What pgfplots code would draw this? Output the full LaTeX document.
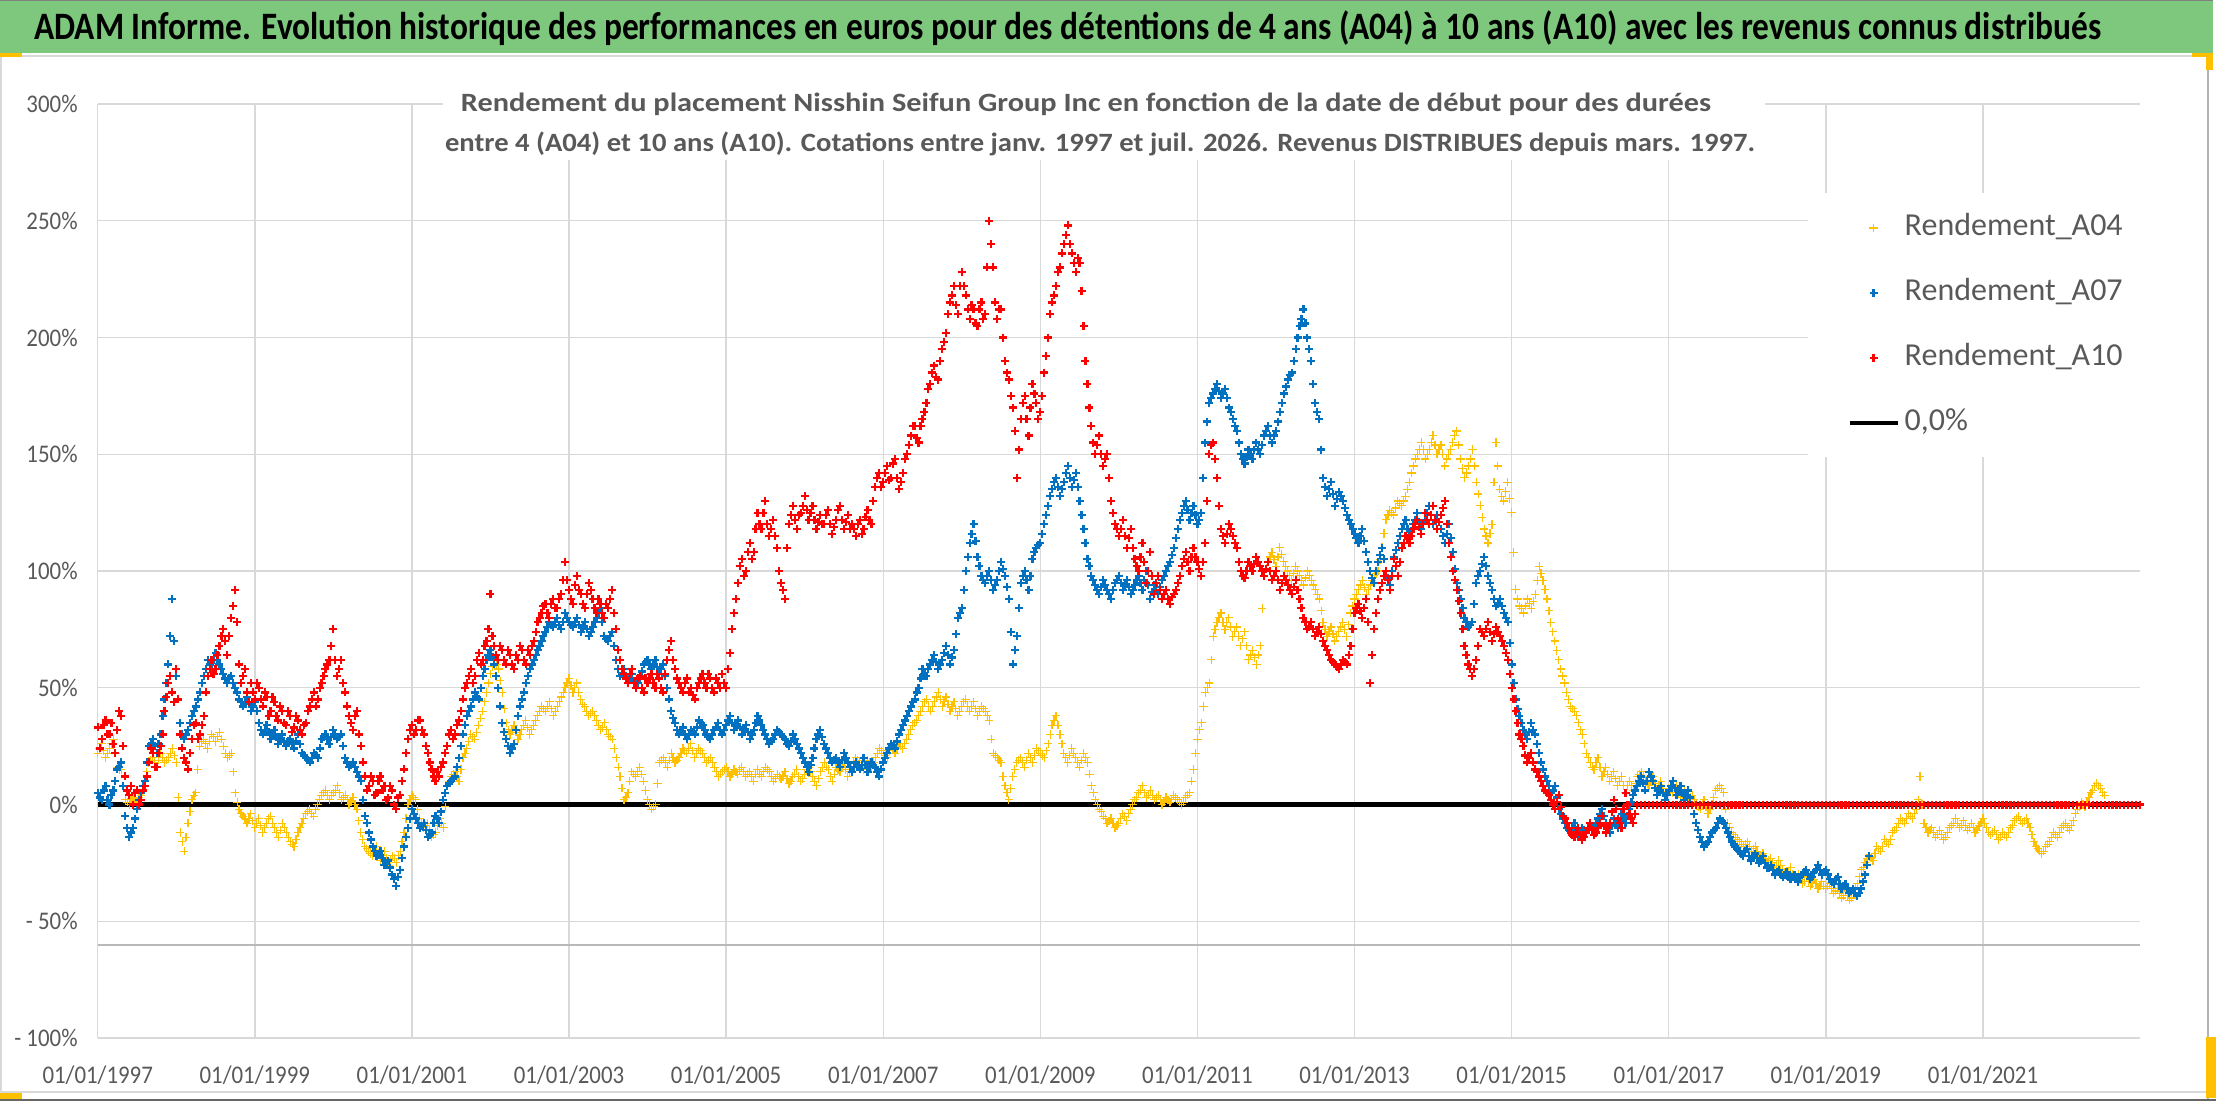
\documentclass[border=0pt]{standalone}
\usepackage{pgfplots}
\pgfplotsset{compat=1.18}
\usepackage{graphicx}
\usepackage{fontspec}
\setmainfont{Carlito}
\newfontfamily\tickfont{Carlito}[FakeStretch=0.9]
\definecolor{cA04}{RGB}{255,192,0}
\definecolor{cA07}{RGB}{0,112,192}
\definecolor{cA10}{RGB}{255,0,0}
\definecolor{titlegreen}{RGB}{126,200,126}
\definecolor{txtgray}{RGB}{89,89,89}
\definecolor{gridgray}{RGB}{217,217,217}
\pgfplotsset{
  sA04/.style={only marks, mark=+, mark size=2.1pt, cA04, line width=0.6pt},
  sA07/.style={only marks, mark=+, mark size=2.0pt, cA07, line width=1.1pt},
  sA10/.style={only marks, mark=+, mark size=2.0pt, cA10, line width=1.1pt},
}
\begin{document}
\begin{tikzpicture}
\fill[white] (0,0) rectangle (1108pt,-551pt);
\useasboundingbox (0,0) rectangle (1108pt,-551pt);
\begin{scope}[x=0.5pt,y=-0.5pt]
 \fill[titlegreen] (0,0) rectangle (2213,53);
 \draw[gray, line width=0.6pt] (0,0.6) -- (2213,0.6);
 \draw[gridgray, line width=1pt] (0,56) -- (2208,56);
 \draw[gridgray, line width=0.8pt] (1,56) -- (1,1092);
 \draw[gray!60, line width=0.8pt] (2208,53) -- (2208,1100);
 \draw[gridgray, line width=1pt] (0,1092) -- (2208,1092);
 \draw[gray!80!black, line width=1pt] (0,1100) -- (2216,1100);
 \fill[cA04] (0,53) rectangle (22,57);
 \fill[cA04] (2192,53) rectangle (2213,57);
 \fill[cA04] (2206,53) rectangle (2213,70);
 \fill[cA04] (2206,1037) rectangle (2216,1098);
 \fill[cA04] (0,1093) rectangle (22,1099);
 \node[anchor=base, inner sep=0pt] at (1068,40) {\resizebox{1033.5pt}{\height}{\bfseries\fontsize{19.4}{23}\selectfont ADAM Informe. Evolution historique des performances en euros pour des détentions de 4 ans (A04) à 10 ans (A10) avec les revenus connus distribués}};
\end{scope}
\begin{axis}[
  at={(48.85pt,-52pt)}, anchor=north west,
  scale only axis, width=1021.15pt, height=467pt,
  xmin=1997, xmax=2023, ymin=-100, ymax=300,
  clip=false,
  axis line style={draw=none}, major tick length=0pt,
  xtick={1997,1999,2001,2003,2005,2007,2009,2011,2013,2015,2017,2019,2021},
  xticklabels={01/01/1997,01/01/1999,01/01/2001,01/01/2003,01/01/2005,01/01/2007,01/01/2009,01/01/2011,01/01/2013,01/01/2015,01/01/2017,01/01/2019,01/01/2021},
  ytick={-100,-50,0,50,100,150,200,250,300},
  yticklabels={- 100\%,- 50\%,0\%,50\%,100\%,150\%,200\%,250\%,300\%},
  grid=major, major grid style={gridgray, line width=0.7pt},
  extra y ticks={-60}, extra y tick labels={},
  extra y tick style={grid=major, major grid style={gray!55, line width=1pt}},
  tick label style={font=\tickfont\fontsize{12.7}{15}\selectfont, text=txtgray, inner sep=0pt},
  xticklabel style={anchor=north, yshift=-13.5pt},
  yticklabel style={anchor=east, xshift=-9.85pt},
  legend style={at={(0.8374,0.9047)}, anchor=north west, draw=none, fill=white,
    inner xsep=19.5pt, inner ysep=10.5pt, row sep=19pt,
    font=\fontsize{16}{19}\selectfont, text=txtgray,
    nodes={inner sep=0pt, text height=10.5pt, text depth=3pt},
    /tikz/every odd column/.append style={column sep=2.5pt}},
  legend cell align=left,
  legend image code/.code={\draw[mark repeat=2,mark phase=2,#1] plot coordinates {(0pt,0pt)(12pt,0pt)(24pt,0pt)};},
]
\addplot[black, line width=2.2pt, forget plot] coordinates {(1997,0)(2023,0)};
% A04
\addplot[sA04] coordinates {
(1997.00,22)(1997.05,26)(1997.10,20)(1997.15,24)(1997.20,28)(1997.25,16)(1997.30,15)(1997.35,2)(1997.40,0)(1997.45,3)(1997.50,1)(1997.55,4)(1997.60,8)(1997.65,18)(1997.70,20)(1997.75,16)(1997.80,22)(1997.85,18)(1997.90,20)(1997.95,24)
(1998.00,18)(1998.05,-12)(1998.10,-20)(1998.15,-8)(1998.20,2)(1998.25,5)(1998.30,25)(1998.35,28)(1998.40,24)(1998.45,30)(1998.50,27)(1998.55,31)(1998.60,25)(1998.65,20)(1998.70,22)(1998.75,5)(1998.80,-2)(1998.85,-5)(1998.90,-8)(1998.95,-4)
(1999.00,-10)(1999.05,-6)(1999.10,-12)(1999.15,-8)(1999.20,-5)(1999.25,-10)(1999.30,-14)(1999.35,-8)(1999.40,-12)(1999.45,-16)(1999.50,-18)(1999.55,-12)(1999.60,-8)(1999.65,-4)(1999.70,-2)(1999.75,-5)(1999.80,0)(1999.85,4)(1999.90,6)(1999.95,2)
(2000.00,5)(2000.05,8)(2000.10,2)(2000.15,4)(2000.20,0)(2000.25,3)(2000.30,-2)(2000.35,-12)(2000.40,-18)(2000.45,-20)(2000.50,-22)(2000.55,-18)(2000.60,-24)(2000.65,-20)(2000.70,-26)(2000.75,-22)(2000.80,-25)(2000.85,-20)(2000.90,-12)(2000.95,0)
(2001.00,4)(2001.05,2)(2001.10,-6)(2001.15,-10)(2001.20,-8)(2001.25,-14)(2001.30,-12)(2001.35,-6)(2001.40,-10)(2001.45,8)(2001.50,12)(2001.55,14)(2001.60,10)(2001.65,20)(2001.70,24)(2001.75,30)(2001.80,28)(2001.85,34)(2001.90,40)(2001.95,48)
(2002.00,56)(2002.05,62)(2002.10,58)(2002.15,48)(2002.20,35)(2002.25,30)(2002.30,34)(2002.35,28)(2002.40,32)(2002.45,36)(2002.50,30)(2002.55,34)(2002.60,38)(2002.65,42)(2002.70,40)(2002.75,44)(2002.80,38)(2002.85,42)(2002.90,46)(2002.95,50)
(2003.00,54)(2003.05,48)(2003.10,52)(2003.15,45)(2003.20,42)(2003.25,38)(2003.30,40)(2003.35,36)(2003.40,32)(2003.45,35)(2003.50,30)(2003.55,28)(2003.60,20)(2003.65,12)(2003.70,2)(2003.75,5)(2003.80,14)(2003.85,12)(2003.90,16)(2003.95,10)
(2004.00,2)(2004.05,-2)(2004.10,0)(2004.15,18)(2004.20,20)(2004.25,16)(2004.30,22)(2004.35,18)(2004.40,20)(2004.45,24)(2004.50,22)(2004.55,26)(2004.60,20)(2004.65,24)(2004.70,22)(2004.75,18)(2004.80,20)(2004.85,16)(2004.90,12)(2004.95,14)
(2005.00,16)(2005.05,12)(2005.10,15)(2005.15,13)(2005.20,16)(2005.25,12)(2005.30,14)(2005.35,10)(2005.40,15)(2005.45,12)(2005.50,16)(2005.55,14)(2005.60,10)(2005.65,13)(2005.70,11)(2005.75,14)(2005.80,9)(2005.85,12)(2005.90,15)(2005.95,10)
(2006.00,13)(2006.05,16)(2006.10,12)(2006.15,8)(2006.20,14)(2006.25,18)(2006.30,15)(2006.35,10)(2006.40,16)(2006.45,14)(2006.50,18)(2006.55,12)(2006.60,16)(2006.65,20)(2006.70,18)(2006.75,15)(2006.80,19)(2006.85,16)(2006.90,20)(2006.95,24)
(2007.00,22)(2007.05,20)(2007.10,25)(2007.15,22)(2007.20,26)(2007.25,24)(2007.30,28)(2007.35,32)(2007.40,35)(2007.45,38)(2007.50,42)(2007.55,45)(2007.60,40)(2007.65,44)(2007.70,48)(2007.75,42)(2007.80,46)(2007.85,40)(2007.90,44)(2007.95,38)
(2008.00,42)(2008.05,45)(2008.10,40)(2008.15,44)(2008.20,38)(2008.25,42)(2008.30,40)(2008.35,36)(2008.40,22)(2008.45,20)(2008.50,18)(2008.55,8)(2008.60,2)(2008.65,12)(2008.70,18)(2008.75,20)(2008.80,16)(2008.85,22)(2008.90,18)(2008.95,24)
(2009.00,22)(2009.05,20)(2009.10,26)(2009.15,34)(2009.20,38)(2009.25,30)(2009.30,22)(2009.35,18)(2009.40,24)(2009.45,20)(2009.50,16)(2009.55,22)(2009.60,18)(2009.65,8)(2009.70,2)(2009.75,-2)(2009.80,-5)(2009.85,-8)(2009.90,-6)(2009.95,-10)
(2010.00,-8)(2010.05,-4)(2010.10,-7)(2010.15,-2)(2010.20,2)(2010.25,5)(2010.30,8)(2010.35,3)(2010.40,6)(2010.45,2)(2010.50,4)(2010.55,0)(2010.60,3)(2010.65,1)(2010.70,4)(2010.75,2)(2010.80,0)(2010.85,3)(2010.90,5)(2010.95,15)
(2011.00,28)(2011.05,35)(2011.10,48)(2011.15,52)(2011.20,72)(2011.25,78)(2011.30,82)(2011.35,75)(2011.40,80)(2011.45,72)(2011.50,76)(2011.55,68)(2011.60,74)(2011.65,62)(2011.70,66)(2011.75,60)(2011.80,68)(2011.85,98)(2011.90,104)(2011.95,108)
(2012.00,102)(2012.05,110)(2012.10,104)(2012.15,100)(2012.20,96)(2012.25,102)(2012.30,98)(2012.35,94)(2012.40,100)(2012.45,96)(2012.50,92)(2012.55,88)(2012.60,78)(2012.65,72)(2012.70,76)(2012.75,70)(2012.80,74)(2012.85,78)(2012.90,72)(2012.95,82)
(2013.00,88)(2013.05,92)(2013.10,96)(2013.15,90)(2013.20,94)(2013.25,98)(2013.30,100)(2013.35,110)(2013.40,122)(2013.45,126)(2013.50,124)(2013.55,130)(2013.60,128)(2013.65,132)(2013.70,138)(2013.75,145)(2013.80,150)(2013.85,155)(2013.90,148)(2013.95,152)
(2014.00,158)(2014.05,150)(2014.10,154)(2014.15,145)(2014.20,150)(2014.25,155)(2014.30,160)(2014.35,148)(2014.40,140)(2014.45,145)(2014.50,152)(2014.55,138)(2014.60,128)(2014.65,118)(2014.70,112)(2014.75,120)(2014.80,155)(2014.85,135)(2014.90,130)(2014.95,138)
(2015.00,125)(2015.05,92)(2015.10,85)(2015.15,82)(2015.20,88)(2015.25,84)(2015.30,90)(2015.35,102)(2015.40,96)(2015.45,88)(2015.50,78)(2015.55,70)(2015.60,62)(2015.65,55)(2015.70,48)(2015.75,42)(2015.80,40)(2015.85,35)(2015.90,30)(2015.95,22)
(2016.00,18)(2016.05,15)(2016.10,20)(2016.15,12)(2016.20,16)(2016.25,10)(2016.30,14)(2016.35,8)(2016.40,12)(2016.45,5)(2016.50,10)(2016.55,6)(2016.60,12)(2016.65,14)(2016.70,10)(2016.75,8)(2016.80,12)(2016.85,6)(2016.90,10)(2016.95,4)
(2017.00,7)(2017.05,5)(2017.10,8)(2017.15,3)(2017.20,6)(2017.25,2)(2017.30,4)(2017.35,0)(2017.40,-2)(2017.45,2)(2017.50,-4)(2017.55,0)(2017.60,6)(2017.65,8)(2017.70,5)(2017.75,-8)(2017.80,-12)(2017.85,-14)(2017.90,-16)(2017.95,-18)
(2018.00,-16)(2018.05,-20)(2018.10,-18)(2018.15,-22)(2018.20,-21)(2018.25,-25)(2018.30,-23)(2018.35,-27)(2018.40,-24)(2018.45,-28)(2018.50,-30)(2018.55,-27)(2018.60,-32)(2018.65,-30)(2018.70,-34)(2018.75,-31)(2018.80,-35)(2018.85,-32)(2018.90,-36)(2018.95,-33)
(2019.00,-36)(2019.05,-34)(2019.10,-38)(2019.15,-36)(2019.20,-40)(2019.25,-37)(2019.30,-41)(2019.35,-38)(2019.40,-34)(2019.45,-28)(2019.50,-25)(2019.55,-22)(2019.60,-24)(2019.65,-18)(2019.70,-20)(2019.75,-15)(2019.80,-17)(2019.85,-12)(2019.90,-10)(2019.95,-6)
(2020.00,-8)(2020.05,-4)(2020.10,-6)(2020.15,-2)(2020.20,12)(2020.25,-8)(2020.30,-12)(2020.35,-10)(2020.40,-14)(2020.45,-11)(2020.50,-15)(2020.55,-12)(2020.60,-9)(2020.65,-6)(2020.70,-10)(2020.75,-7)(2020.80,-11)(2020.85,-8)(2020.90,-12)(2020.95,-9)
(2021.00,-6)(2021.05,-10)(2021.10,-13)(2021.15,-11)(2021.20,-15)(2021.25,-12)(2021.30,-14)(2021.35,-10)(2021.40,-7)(2021.45,-5)(2021.50,-8)(2021.55,-6)(2021.60,-10)(2021.65,-16)(2021.70,-19)(2021.75,-21)(2021.80,-18)(2021.85,-16)(2021.90,-12)(2021.95,-14)
(2022.00,-10)(2022.05,-8)(2022.10,-11)(2022.15,-7)(2022.20,-2)(2022.25,1)(2022.30,-1)(2022.35,3)(2022.40,6)(2022.45,9)(2022.50,7)(2022.55,4)
};
\addlegendentry{Rendement\_A04}
\addplot[sA04, forget plot] coordinates {
(1997.025,24)(1997.075,23)(1997.125,22)(1997.175,26)(1997.225,22)(1997.275,15)(1997.325,8)(1997.375,1)(1997.425,2)(1997.475,2)(1997.525,3)(1997.575,6)(1997.625,14)(1997.675,19)(1997.725,18)(1997.775,19)(1997.825,20)(1997.875,19)(1997.925,22)(1997.975,21)
(1998.025,3)(1998.075,-16)(1998.125,-14)(1998.175,-3)(1998.225,4)(1998.275,15)(1998.325,27)(1998.375,26)(1998.425,27)(1998.475,29)(1998.525,29)(1998.575,28)(1998.625,22)(1998.675,21)(1998.725,14)(1998.775,1)(1998.825,-4)(1998.875,-6)(1998.925,-6)(1998.975,-7)
(1999.025,-8)(1999.075,-9)(1999.125,-10)(1999.175,-6)(1999.225,-8)(1999.275,-12)(1999.325,-11)(1999.375,-10)(1999.425,-14)(1999.475,-17)(1999.525,-15)(1999.575,-10)(1999.625,-6)(1999.675,-3)(1999.725,-4)(1999.775,-2)(1999.825,2)(1999.875,5)(1999.925,4)(1999.975,4)
(2000.025,6)(2000.075,5)(2000.125,3)(2000.175,2)(2000.225,1)(2000.275,0)(2000.325,-7)(2000.375,-15)(2000.425,-19)(2000.475,-21)(2000.525,-20)(2000.575,-21)(2000.625,-22)(2000.675,-23)(2000.725,-24)(2000.775,-23)(2000.825,-22)(2000.875,-16)(2000.925,-6)(2000.975,2)
(2001.025,3)(2001.075,-2)(2001.125,-8)(2001.175,-9)(2001.225,-11)(2001.275,-13)(2001.325,-9)(2001.375,-8)(2001.425,-1)(2001.475,10)(2001.525,13)(2001.575,12)(2001.625,15)(2001.675,22)(2001.725,27)(2001.775,29)(2001.825,31)(2001.875,37)(2001.925,44)(2001.975,52)
(2002.025,59)(2002.075,60)(2002.125,53)(2002.175,41)(2002.225,32)(2002.275,32)(2002.325,31)(2002.375,30)(2002.425,34)(2002.475,33)(2002.525,32)(2002.575,36)(2002.625,40)(2002.675,41)(2002.725,42)(2002.775,41)(2002.825,40)(2002.875,44)(2002.925,48)(2002.975,52)
(2003.025,51)(2003.075,50)(2003.125,48)(2003.175,43)(2003.225,40)(2003.275,39)(2003.325,38)(2003.375,34)(2003.425,33)(2003.475,32)(2003.525,29)(2003.575,24)(2003.625,16)(2003.675,7)(2003.725,3)(2003.775,10)(2003.825,13)(2003.875,14)(2003.925,13)(2003.975,6)
(2004.025,0)(2004.075,-1)(2004.125,9)(2004.175,19)(2004.225,18)(2004.275,19)(2004.325,20)(2004.375,19)(2004.425,22)(2004.475,23)(2004.525,24)(2004.575,23)(2004.625,22)(2004.675,23)(2004.725,20)(2004.775,19)(2004.825,18)(2004.875,14)(2004.925,13)(2004.975,15)
(2005.025,14)(2005.075,13)(2005.125,14)(2005.175,15)(2005.225,14)(2005.275,13)(2005.325,12)(2005.375,13)(2005.425,13)(2005.475,14)(2005.525,15)(2005.575,12)(2005.625,11)(2005.675,12)(2005.725,12)(2005.775,11)(2005.825,10)(2005.875,13)(2005.925,12)(2005.975,11)
(2006.025,15)(2006.075,14)(2006.125,10)(2006.175,11)(2006.225,16)(2006.275,16)(2006.325,12)(2006.375,13)(2006.425,15)(2006.475,16)(2006.525,15)(2006.575,14)(2006.625,18)(2006.675,19)(2006.725,16)(2006.775,17)(2006.825,18)(2006.875,18)(2006.925,22)(2006.975,23)
(2007.025,21)(2007.075,23)(2007.125,24)(2007.175,24)(2007.225,25)(2007.275,26)(2007.325,30)(2007.375,34)(2007.425,36)(2007.475,40)(2007.525,44)(2007.575,42)(2007.625,42)(2007.675,46)(2007.725,45)(2007.775,44)(2007.825,43)(2007.875,42)(2007.925,41)(2007.975,40)
(2008.025,44)(2008.075,42)(2008.125,42)(2008.175,41)(2008.225,40)(2008.275,41)(2008.325,38)(2008.375,28)(2008.425,21)(2008.475,19)(2008.525,12)(2008.575,5)(2008.625,7)(2008.675,15)(2008.725,19)(2008.775,18)(2008.825,19)(2008.875,20)(2008.925,21)(2008.975,23)
(2009.025,21)(2009.075,23)(2009.125,30)(2009.175,36)(2009.225,34)(2009.275,26)(2009.325,20)(2009.375,21)(2009.425,22)(2009.475,18)(2009.525,19)(2009.575,20)(2009.625,13)(2009.675,5)(2009.725,0)(2009.775,-3)(2009.825,-6)(2009.875,-7)(2009.925,-8)(2009.975,-9)
(2010.025,-6)(2010.075,-5)(2010.125,-4)(2010.175,0)(2010.225,3)(2010.275,6)(2010.325,5)(2010.375,4)(2010.425,4)(2010.475,3)(2010.525,2)(2010.575,1)(2010.625,2)(2010.675,2)(2010.725,3)(2010.775,1)(2010.825,1)(2010.875,4)(2010.925,10)(2010.975,22)
(2011.025,32)(2011.075,42)(2011.125,50)(2011.175,62)(2011.225,75)(2011.275,80)(2011.325,78)(2011.375,78)(2011.425,76)(2011.475,74)(2011.525,72)(2011.575,71)(2011.625,68)(2011.675,64)(2011.725,63)(2011.775,64)(2011.825,84)(2011.875,101)(2011.925,106)(2011.975,105)
(2012.025,106)(2012.075,107)(2012.125,102)(2012.175,98)(2012.225,99)(2012.275,100)(2012.325,96)(2012.375,97)(2012.425,98)(2012.475,94)(2012.525,90)(2012.575,83)(2012.625,75)(2012.675,74)(2012.725,73)(2012.775,72)(2012.825,76)(2012.875,75)(2012.925,77)(2012.975,85)
(2013.025,90)(2013.075,94)(2013.125,93)(2013.175,92)(2013.225,96)(2013.275,99)(2013.325,105)(2013.375,116)(2013.425,124)(2013.475,125)(2013.525,127)(2013.575,129)(2013.625,130)(2013.675,135)(2013.725,142)(2013.775,148)(2013.825,152)(2013.875,152)(2013.925,150)(2013.975,155)
(2014.025,154)(2014.075,152)(2014.125,150)(2014.175,148)(2014.225,152)(2014.275,158)(2014.325,154)(2014.375,144)(2014.425,142)(2014.475,148)(2014.525,145)(2014.575,133)(2014.625,123)(2014.675,115)(2014.725,116)(2014.775,138)(2014.825,145)(2014.875,132)(2014.925,134)(2014.975,131)
(2015.025,108)(2015.075,88)(2015.125,84)(2015.175,85)(2015.225,86)(2015.275,87)(2015.325,96)(2015.375,99)(2015.425,92)(2015.475,83)(2015.525,74)(2015.575,66)(2015.625,58)(2015.675,52)(2015.725,45)(2015.775,41)(2015.825,38)(2015.875,32)(2015.925,26)(2015.975,20)
(2016.025,16)(2016.075,18)(2016.125,16)(2016.175,14)(2016.225,13)(2016.275,12)(2016.325,11)(2016.375,10)(2016.425,8)(2016.475,8)(2016.525,8)(2016.575,9)(2016.625,13)(2016.675,12)(2016.725,9)(2016.775,10)(2016.825,9)(2016.875,8)(2016.925,7)(2016.975,5)
(2017.025,6)(2017.075,7)(2017.125,5)(2017.175,4)(2017.225,4)(2017.275,3)(2017.325,2)(2017.375,-1)(2017.425,0)(2017.475,-1)(2017.525,-2)(2017.575,3)(2017.625,7)(2017.675,7)(2017.725,-2)(2017.775,-10)(2017.825,-13)(2017.875,-15)(2017.925,-17)(2017.975,-17)
(2018.025,-18)(2018.075,-19)(2018.125,-20)(2018.175,-22)(2018.225,-23)(2018.275,-24)(2018.325,-25)(2018.375,-26)(2018.425,-26)(2018.475,-29)(2018.525,-29)(2018.575,-30)(2018.625,-31)(2018.675,-32)(2018.725,-33)(2018.775,-33)(2018.825,-34)(2018.875,-34)(2018.925,-35)(2018.975,-35)
(2019.025,-35)(2019.075,-36)(2019.125,-37)(2019.175,-38)(2019.225,-39)(2019.275,-39)(2019.325,-40)(2019.375,-36)(2019.425,-31)(2019.475,-27)(2019.525,-23)(2019.575,-23)(2019.625,-21)(2019.675,-19)(2019.725,-18)(2019.775,-16)(2019.825,-15)(2019.875,-11)(2019.925,-8)(2019.975,-7)
(2020.025,-6)(2020.075,-5)(2020.125,-4)(2020.175,2)(2020.225,0)(2020.275,-10)(2020.325,-11)(2020.375,-12)(2020.425,-13)(2020.475,-13)(2020.525,-14)(2020.575,-10)(2020.625,-8)(2020.675,-8)(2020.725,-9)(2020.775,-9)(2020.825,-10)(2020.875,-10)(2020.925,-11)(2020.975,-8)
(2021.025,-8)(2021.075,-12)(2021.125,-12)(2021.175,-13)(2021.225,-14)(2021.275,-13)(2021.325,-12)(2021.375,-9)(2021.425,-6)(2021.475,-7)(2021.525,-7)(2021.575,-8)(2021.625,-13)(2021.675,-18)(2021.725,-20)(2021.775,-20)(2021.825,-17)(2021.875,-14)(2021.925,-13)(2021.975,-12)
(2022.025,-9)(2022.075,-10)(2022.125,-9)(2022.175,-4)(2022.225,-1)(2022.275,0)(2022.325,1)(2022.375,5)(2022.425,8)(2022.475,8)(2022.525,5)
};
% A07
\addplot[sA07] coordinates {
(1997.00,5)(1997.05,2)(1997.10,8)(1997.15,0)(1997.20,6)(1997.25,15)(1997.30,18)(1997.35,-5)(1997.40,-14)(1997.45,-10)(1997.50,-2)(1997.55,5)(1997.60,10)(1997.65,25)(1997.70,28)(1997.75,22)(1997.80,30)(1997.85,45)(1997.90,60)(1997.95,88)
(1998.00,55)(1998.05,35)(1998.10,28)(1998.15,32)(1998.20,38)(1998.25,42)(1998.30,48)(1998.35,55)(1998.40,62)(1998.45,58)(1998.50,65)(1998.55,60)(1998.60,56)(1998.65,52)(1998.70,55)(1998.75,50)(1998.80,45)(1998.85,42)(1998.90,46)(1998.95,40)
(1999.00,44)(1999.05,35)(1999.10,30)(1999.15,34)(1999.20,28)(1999.25,32)(1999.30,26)(1999.35,30)(1999.40,25)(1999.45,28)(1999.50,24)(1999.55,30)(1999.60,22)(1999.65,20)(1999.70,18)(1999.75,22)(1999.80,20)(1999.85,28)(1999.90,30)(1999.95,26)
(2000.00,32)(2000.05,28)(2000.10,30)(2000.15,20)(2000.20,16)(2000.25,18)(2000.30,14)(2000.35,10)(2000.40,-5)(2000.45,-12)(2000.50,-18)(2000.55,-22)(2000.60,-20)(2000.65,-26)(2000.70,-24)(2000.75,-30)(2000.80,-35)(2000.85,-28)(2000.90,-18)(2000.95,-10)
(2001.00,-2)(2001.05,-6)(2001.10,-10)(2001.15,-8)(2001.20,-14)(2001.25,-12)(2001.30,-5)(2001.35,-8)(2001.40,2)(2001.45,8)(2001.50,10)(2001.55,12)(2001.60,20)(2001.65,30)(2001.70,38)(2001.75,42)(2001.80,48)(2001.85,45)(2001.90,55)(2001.95,62)
(2002.00,66)(2002.05,60)(2002.10,50)(2002.15,35)(2002.20,28)(2002.25,22)(2002.30,26)(2002.35,38)(2002.40,45)(2002.45,52)(2002.50,58)(2002.55,62)(2002.60,66)(2002.65,70)(2002.70,74)(2002.75,78)(2002.80,76)(2002.85,80)(2002.90,75)(2002.95,82)
(2003.00,78)(2003.05,76)(2003.10,80)(2003.15,74)(2003.20,78)(2003.25,72)(2003.30,76)(2003.35,80)(2003.40,84)(2003.45,72)(2003.50,70)(2003.55,74)(2003.60,62)(2003.65,55)(2003.70,58)(2003.75,52)(2003.80,56)(2003.85,50)(2003.90,54)(2003.95,60)
(2004.00,62)(2004.05,58)(2004.10,62)(2004.15,56)(2004.20,60)(2004.25,50)(2004.30,40)(2004.35,35)(2004.40,30)(2004.45,33)(2004.50,28)(2004.55,32)(2004.60,30)(2004.65,36)(2004.70,34)(2004.75,30)(2004.80,28)(2004.85,32)(2004.90,35)(2004.95,30)
(2005.00,34)(2005.05,38)(2005.10,32)(2005.15,36)(2005.20,30)(2005.25,34)(2005.30,28)(2005.35,32)(2005.40,38)(2005.45,34)(2005.50,30)(2005.55,26)(2005.60,28)(2005.65,32)(2005.70,30)(2005.75,28)(2005.80,25)(2005.85,30)(2005.90,26)(2005.95,22)
(2006.00,18)(2006.05,14)(2006.10,20)(2006.15,28)(2006.20,32)(2006.25,26)(2006.30,22)(2006.35,18)(2006.40,20)(2006.45,16)(2006.50,22)(2006.55,18)(2006.60,14)(2006.65,18)(2006.70,15)(2006.75,20)(2006.80,14)(2006.85,18)(2006.90,16)(2006.95,12)
(2007.00,18)(2007.05,22)(2007.10,26)(2007.15,24)(2007.20,30)(2007.25,34)(2007.30,38)(2007.35,42)(2007.40,45)(2007.45,50)(2007.50,58)(2007.55,55)(2007.60,60)(2007.65,64)(2007.70,58)(2007.75,62)(2007.80,68)(2007.85,60)(2007.90,66)(2007.95,80)
(2008.00,84)(2008.05,100)(2008.10,112)(2008.15,120)(2008.20,106)(2008.25,98)(2008.30,95)(2008.35,100)(2008.40,92)(2008.45,96)(2008.50,104)(2008.55,98)(2008.60,88)(2008.65,60)(2008.70,72)(2008.75,95)(2008.80,100)(2008.85,92)(2008.90,105)(2008.95,110)
(2009.00,112)(2009.05,120)(2009.10,128)(2009.15,135)(2009.20,140)(2009.25,132)(2009.30,138)(2009.35,145)(2009.40,136)(2009.45,142)(2009.50,130)(2009.55,118)(2009.60,105)(2009.65,98)(2009.70,94)(2009.75,90)(2009.80,96)(2009.85,92)(2009.90,88)(2009.95,95)
(2010.00,98)(2010.05,92)(2010.10,96)(2010.15,90)(2010.20,94)(2010.25,98)(2010.30,92)(2010.35,100)(2010.40,88)(2010.45,94)(2010.50,90)(2010.55,96)(2010.60,100)(2010.65,104)(2010.70,110)(2010.75,118)(2010.80,125)(2010.85,130)(2010.90,122)(2010.95,128)
(2011.00,120)(2011.05,125)(2011.10,155)(2011.15,172)(2011.20,176)(2011.25,180)(2011.30,174)(2011.35,178)(2011.40,170)(2011.45,165)(2011.50,160)(2011.55,150)(2011.60,146)(2011.65,152)(2011.70,148)(2011.75,155)(2011.80,150)(2011.85,158)(2011.90,162)(2011.95,155)
(2012.00,160)(2012.05,168)(2012.10,176)(2012.15,182)(2012.20,185)(2012.25,195)(2012.30,205)(2012.35,212)(2012.40,200)(2012.45,190)(2012.50,172)(2012.55,165)(2012.60,140)(2012.65,132)(2012.70,138)(2012.75,128)(2012.80,134)(2012.85,130)(2012.90,124)(2012.95,120)
(2013.00,116)(2013.05,112)(2013.10,118)(2013.15,108)(2013.20,100)(2013.25,95)(2013.30,104)(2013.35,110)(2013.40,100)(2013.45,94)(2013.50,106)(2013.55,112)(2013.60,118)(2013.65,122)(2013.70,115)(2013.75,120)(2013.80,125)(2013.85,118)(2013.90,122)(2013.95,128)
(2014.00,120)(2014.05,124)(2014.10,118)(2014.15,112)(2014.20,120)(2014.25,108)(2014.30,95)(2014.35,88)(2014.40,80)(2014.45,76)(2014.50,78)(2014.55,95)(2014.60,100)(2014.65,106)(2014.70,98)(2014.75,92)(2014.80,85)(2014.85,88)(2014.90,82)(2014.95,78)
(2015.00,60)(2015.05,45)(2015.10,38)(2015.15,32)(2015.20,28)(2015.25,35)(2015.30,30)(2015.35,22)(2015.40,15)(2015.45,10)(2015.50,5)(2015.55,8)(2015.60,-2)(2015.65,-6)(2015.70,-10)(2015.75,-12)(2015.80,-8)(2015.85,-14)(2015.90,-10)(2015.95,-12)
(2016.00,-8)(2016.05,-10)(2016.10,-6)(2016.15,-2)(2016.20,-8)(2016.25,-12)(2016.30,-6)(2016.35,-10)(2016.40,-4)(2016.45,-8)(2016.50,-2)(2016.55,4)(2016.60,8)(2016.65,12)(2016.70,6)(2016.75,14)(2016.80,10)(2016.85,4)(2016.90,8)(2016.95,2)
(2017.00,6)(2017.05,10)(2017.10,4)(2017.15,8)(2017.20,2)(2017.25,6)(2017.30,0)(2017.35,-8)(2017.40,-14)(2017.45,-18)(2017.50,-16)(2017.55,-12)(2017.60,-10)(2017.65,-6)(2017.70,-8)(2017.75,-12)(2017.80,-16)(2017.85,-18)(2017.90,-20)(2017.95,-22)
(2018.00,-19)(2018.05,-24)(2018.10,-21)(2018.15,-25)(2018.20,-22)(2018.25,-27)(2018.30,-26)(2018.35,-30)(2018.40,-28)(2018.45,-31)(2018.50,-29)(2018.55,-32)(2018.60,-30)(2018.65,-33)(2018.70,-30)(2018.75,-28)(2018.80,-32)(2018.85,-29)(2018.90,-26)(2018.95,-30)
(2019.00,-28)(2019.05,-32)(2019.10,-34)(2019.15,-31)(2019.20,-36)(2019.25,-34)(2019.30,-38)(2019.35,-36)(2019.40,-39)(2019.45,-36)(2019.50,-30)(2019.55,-22)
};
\addlegendentry{Rendement\_A07}
\addplot[sA07, forget plot] coordinates {
(1997.025,3)(1997.075,6)(1997.125,2)(1997.175,4)(1997.225,10)(1997.275,16)(1997.325,8)(1997.375,-10)(1997.425,-12)(1997.475,-6)(1997.525,2)(1997.575,8)(1997.625,18)(1997.675,26)(1997.725,25)(1997.775,26)(1997.825,38)(1997.875,52)(1997.925,72)(1997.975,70)
(1998.025,45)(1998.075,30)(1998.125,30)(1998.175,35)(1998.225,40)(1998.275,45)(1998.325,52)(1998.375,58)(1998.425,60)(1998.475,62)(1998.525,62)(1998.575,58)(1998.625,54)(1998.675,54)(1998.725,52)(1998.775,48)(1998.825,44)(1998.875,44)(1998.925,43)(1998.975,42)
(1999.025,40)(1999.075,32)(1999.125,32)(1999.175,31)(1999.225,30)(1999.275,29)(1999.325,28)(1999.375,27)(1999.425,27)(1999.475,26)(1999.525,27)(1999.575,26)(1999.625,21)(1999.675,19)(1999.725,20)(1999.775,21)(1999.825,24)(1999.875,29)(1999.925,28)(1999.975,29)
(2000.025,30)(2000.075,29)(2000.125,25)(2000.175,18)(2000.225,17)(2000.275,16)(2000.325,12)(2000.375,2)(2000.425,-8)(2000.475,-15)(2000.525,-20)(2000.575,-21)(2000.625,-23)(2000.675,-25)(2000.725,-27)(2000.775,-32)(2000.825,-31)(2000.875,-23)(2000.925,-14)(2000.975,-6)
(2001.025,-4)(2001.075,-8)(2001.125,-9)(2001.175,-11)(2001.225,-13)(2001.275,-8)(2001.325,-6)(2001.375,-3)(2001.425,5)(2001.475,9)(2001.525,11)(2001.575,16)(2001.625,25)(2001.675,34)(2001.725,40)(2001.775,45)(2001.825,46)(2001.875,50)(2001.925,58)(2001.975,64)
(2002.025,63)(2002.075,55)(2002.125,42)(2002.175,31)(2002.225,25)(2002.275,24)(2002.325,32)(2002.375,42)(2002.425,48)(2002.475,55)(2002.525,60)(2002.575,64)(2002.625,68)(2002.675,72)(2002.725,76)(2002.775,77)(2002.825,78)(2002.875,77)(2002.925,78)(2002.975,80)
(2003.025,77)(2003.075,78)(2003.125,77)(2003.175,76)(2003.225,75)(2003.275,74)(2003.325,78)(2003.375,82)(2003.425,78)(2003.475,71)(2003.525,72)(2003.575,68)(2003.625,58)(2003.675,56)(2003.725,55)(2003.775,54)(2003.825,53)(2003.875,52)(2003.925,57)(2003.975,61)
(2004.025,60)(2004.075,60)(2004.125,59)(2004.175,58)(2004.225,55)(2004.275,45)(2004.325,37)(2004.375,32)(2004.425,31)(2004.475,30)(2004.525,30)(2004.575,31)(2004.625,33)(2004.675,35)(2004.725,32)(2004.775,29)(2004.825,30)(2004.875,33)(2004.925,32)(2004.975,32)
(2005.025,36)(2005.075,35)(2005.125,34)(2005.175,33)(2005.225,32)(2005.275,31)(2005.325,30)(2005.375,35)(2005.425,36)(2005.475,32)(2005.525,28)(2005.575,27)(2005.625,30)(2005.675,31)(2005.725,29)(2005.775,26)(2005.825,27)(2005.875,28)(2005.925,24)(2005.975,20)
(2006.025,16)(2006.075,17)(2006.125,24)(2006.175,30)(2006.225,29)(2006.275,24)(2006.325,20)(2006.375,19)(2006.425,18)(2006.475,19)(2006.525,20)(2006.575,16)(2006.625,16)(2006.675,16)(2006.725,17)(2006.775,17)(2006.825,16)(2006.875,17)(2006.925,14)(2006.975,15)
(2007.025,20)(2007.075,24)(2007.125,25)(2007.175,27)(2007.225,32)(2007.275,36)(2007.325,40)(2007.375,44)(2007.425,48)(2007.475,54)(2007.525,56)(2007.575,58)(2007.625,62)(2007.675,61)(2007.725,60)(2007.775,65)(2007.825,64)(2007.875,63)(2007.925,73)(2007.975,82)
(2008.025,92)(2008.075,106)(2008.125,116)(2008.175,113)(2008.225,102)(2008.275,96)(2008.325,98)(2008.375,96)(2008.425,94)(2008.475,100)(2008.525,101)(2008.575,93)(2008.625,74)(2008.675,66)(2008.725,84)(2008.775,98)(2008.825,96)(2008.875,98)(2008.925,108)(2008.975,111)
(2009.025,116)(2009.075,124)(2009.125,132)(2009.175,138)(2009.225,136)(2009.275,135)(2009.325,142)(2009.375,140)(2009.425,139)(2009.475,136)(2009.525,124)(2009.575,112)(2009.625,102)(2009.675,96)(2009.725,92)(2009.775,93)(2009.825,94)(2009.875,90)(2009.925,92)(2009.975,96)
(2010.025,95)(2010.075,94)(2010.125,93)(2010.175,92)(2010.225,96)(2010.275,95)(2010.325,96)(2010.375,94)(2010.425,91)(2010.475,92)(2010.525,93)(2010.575,98)(2010.625,102)(2010.675,107)(2010.725,114)(2010.775,122)(2010.825,128)(2010.875,126)(2010.925,125)(2010.975,124)
(2011.025,122)(2011.075,140)(2011.125,164)(2011.175,174)(2011.225,178)(2011.275,177)(2011.325,176)(2011.375,174)(2011.425,168)(2011.475,162)(2011.525,155)(2011.575,148)(2011.625,149)(2011.675,150)(2011.725,152)(2011.775,152)(2011.825,154)(2011.875,160)(2011.925,158)(2011.975,158)
(2012.025,164)(2012.075,172)(2012.125,179)(2012.175,184)(2012.225,190)(2012.275,200)(2012.325,208)(2012.375,206)(2012.425,195)(2012.475,180)(2012.525,168)(2012.575,152)(2012.625,136)(2012.675,135)(2012.725,133)(2012.775,131)(2012.825,132)(2012.875,127)(2012.925,122)(2012.975,118)
(2013.025,114)(2013.075,115)(2013.125,113)(2013.175,104)(2013.225,97)(2013.275,100)(2013.325,107)(2013.375,105)(2013.425,97)(2013.475,100)(2013.525,109)(2013.575,115)(2013.625,120)(2013.675,118)(2013.725,117)(2013.775,122)(2013.825,121)(2013.875,120)(2013.925,125)(2013.975,124)
(2014.025,122)(2014.075,121)(2014.125,115)(2014.175,116)(2014.225,114)(2014.275,101)(2014.325,92)(2014.375,84)(2014.425,78)(2014.475,77)(2014.525,86)(2014.575,98)(2014.625,103)(2014.675,102)(2014.725,95)(2014.775,88)(2014.825,86)(2014.875,85)(2014.925,80)(2014.975,69)
(2015.025,52)(2015.075,41)(2015.125,35)(2015.175,30)(2015.225,31)(2015.275,32)(2015.325,26)(2015.375,18)(2015.425,12)(2015.475,8)(2015.525,6)(2015.575,3)(2015.625,-4)(2015.675,-8)(2015.725,-11)(2015.775,-10)(2015.825,-11)(2015.875,-12)(2015.925,-11)(2015.975,-10)
(2016.025,-9)(2016.075,-8)(2016.125,-4)(2016.175,-5)(2016.225,-10)(2016.275,-9)(2016.325,-8)(2016.375,-7)(2016.425,-6)(2016.475,-5)(2016.525,1)(2016.575,6)(2016.625,10)(2016.675,9)(2016.725,10)(2016.775,12)(2016.825,7)(2016.875,6)(2016.925,5)(2016.975,4)
(2017.025,8)(2017.075,7)(2017.125,6)(2017.175,5)(2017.225,4)(2017.275,3)(2017.325,-4)(2017.375,-11)(2017.425,-16)(2017.475,-17)(2017.525,-14)(2017.575,-11)(2017.625,-8)(2017.675,-7)(2017.725,-10)(2017.775,-14)(2017.825,-17)(2017.875,-19)(2017.925,-21)(2017.975,-20)
(2018.025,-22)(2018.075,-23)(2018.125,-23)(2018.175,-24)(2018.225,-25)(2018.275,-27)(2018.325,-28)(2018.375,-29)(2018.425,-30)(2018.475,-30)(2018.525,-31)(2018.575,-31)(2018.625,-32)(2018.675,-31)(2018.725,-29)(2018.775,-30)(2018.825,-31)(2018.875,-28)(2018.925,-28)(2018.975,-29)
(2019.025,-30)(2019.075,-33)(2019.125,-32)(2019.175,-34)(2019.225,-35)(2019.275,-36)(2019.325,-37)(2019.375,-38)(2019.425,-38)(2019.475,-33)(2019.525,-26)
};
% A10
\addplot[sA10] coordinates {
(1997.00,33)(1997.05,28)(1997.10,36)(1997.15,30)(1997.20,26)(1997.25,32)(1997.30,38)(1997.35,12)(1997.40,4)(1997.45,0)(1997.50,6)(1997.55,2)(1997.60,8)(1997.65,18)(1997.70,22)(1997.75,16)(1997.80,25)(1997.85,40)(1997.90,52)(1997.95,48)
(1998.00,58)(1998.05,30)(1998.10,20)(1998.15,15)(1998.20,28)(1998.25,35)(1998.30,30)(1998.35,38)(1998.40,55)(1998.45,62)(1998.50,58)(1998.55,68)(1998.60,75)(1998.65,64)(1998.70,80)(1998.75,92)(1998.80,60)(1998.85,55)(1998.90,48)(1998.95,52)
(1999.00,45)(1999.05,50)(1999.10,42)(1999.15,46)(1999.20,40)(1999.25,44)(1999.30,36)(1999.35,40)(1999.40,34)(1999.45,38)(1999.50,33)(1999.55,36)(1999.60,30)(1999.65,35)(1999.70,42)(1999.75,48)(1999.80,45)(1999.85,52)(1999.90,58)(1999.95,62)
(2000.00,75)(2000.05,55)(2000.10,62)(2000.15,48)(2000.20,38)(2000.25,32)(2000.30,40)(2000.35,25)(2000.40,12)(2000.45,8)(2000.50,10)(2000.55,5)(2000.60,12)(2000.65,8)(2000.70,3)(2000.75,6)(2000.80,-2)(2000.85,4)(2000.90,15)(2000.95,28)
(2001.00,34)(2001.05,32)(2001.10,36)(2001.15,30)(2001.20,22)(2001.25,15)(2001.30,10)(2001.35,12)(2001.40,18)(2001.45,25)(2001.50,32)(2001.55,30)(2001.60,36)(2001.65,45)(2001.70,52)(2001.75,58)(2001.80,55)(2001.85,65)(2001.90,62)(2001.95,70)
(2002.00,90)(2002.05,68)(2002.10,62)(2002.15,66)(2002.20,60)(2002.25,64)(2002.30,58)(2002.35,62)(2002.40,66)(2002.45,60)(2002.50,64)(2002.55,70)(2002.60,78)(2002.65,82)(2002.70,86)(2002.75,80)(2002.80,88)(2002.85,84)(2002.90,90)(2002.95,104)
(2003.00,92)(2003.05,86)(2003.10,98)(2003.15,90)(2003.20,84)(2003.25,95)(2003.30,88)(2003.35,82)(2003.40,86)(2003.45,80)(2003.50,84)(2003.55,92)(2003.60,75)(2003.65,62)(2003.70,56)(2003.75,52)(2003.80,58)(2003.85,50)(2003.90,55)(2003.95,48)
(2004.00,52)(2004.05,56)(2004.10,50)(2004.15,54)(2004.20,48)(2004.25,62)(2004.30,70)(2004.35,58)(2004.40,52)(2004.45,48)(2004.50,54)(2004.55,50)(2004.60,45)(2004.65,52)(2004.70,56)(2004.75,50)(2004.80,54)(2004.85,48)(2004.90,52)(2004.95,56)
(2005.00,50)(2005.05,65)(2005.10,82)(2005.15,95)(2005.20,105)(2005.25,100)(2005.30,112)(2005.35,108)(2005.40,125)(2005.45,118)(2005.50,130)(2005.55,115)(2005.60,122)(2005.65,110)(2005.70,95)(2005.75,88)(2005.80,120)(2005.85,128)(2005.90,118)(2005.95,125)
(2006.00,132)(2006.05,122)(2006.10,128)(2006.15,118)(2006.20,124)(2006.25,120)(2006.30,126)(2006.35,116)(2006.40,122)(2006.45,128)(2006.50,118)(2006.55,124)(2006.60,120)(2006.65,115)(2006.70,122)(2006.75,118)(2006.80,126)(2006.85,120)(2006.90,136)(2006.95,142)
(2007.00,138)(2007.05,145)(2007.10,140)(2007.15,148)(2007.20,135)(2007.25,142)(2007.30,150)(2007.35,158)(2007.40,162)(2007.45,155)(2007.50,165)(2007.55,172)(2007.60,180)(2007.65,188)(2007.70,182)(2007.75,195)(2007.80,202)(2007.85,215)(2007.90,222)(2007.95,210)
(2008.00,228)(2008.05,218)(2008.10,208)(2008.15,212)(2008.20,205)(2008.25,215)(2008.30,210)(2008.35,250)(2008.40,230)(2008.45,208)(2008.50,212)(2008.55,190)(2008.60,182)(2008.65,170)(2008.70,140)(2008.75,165)(2008.80,175)(2008.85,158)(2008.90,180)(2008.95,172)
(2009.00,168)(2009.05,185)(2009.10,200)(2009.15,215)(2009.20,222)(2009.25,230)(2009.30,240)(2009.35,248)(2009.40,236)(2009.45,228)(2009.50,232)(2009.55,205)(2009.60,180)(2009.65,162)(2009.70,150)(2009.75,158)(2009.80,145)(2009.85,150)(2009.90,130)(2009.95,120)
(2010.00,115)(2010.05,122)(2010.10,110)(2010.15,118)(2010.20,105)(2010.25,100)(2010.30,112)(2010.35,95)(2010.40,108)(2010.45,90)(2010.50,98)(2010.55,88)(2010.60,92)(2010.65,86)(2010.70,90)(2010.75,95)(2010.80,102)(2010.85,108)(2010.90,100)(2010.95,110)
(2011.00,104)(2011.05,98)(2011.10,112)(2011.15,150)(2011.20,155)(2011.25,140)(2011.30,118)(2011.35,112)(2011.40,120)(2011.45,115)(2011.50,110)(2011.55,100)(2011.60,97)(2011.65,104)(2011.70,100)(2011.75,106)(2011.80,102)(2011.85,98)(2011.90,104)(2011.95,96)
(2012.00,100)(2012.05,92)(2012.10,98)(2012.15,94)(2012.20,90)(2012.25,96)(2012.30,88)(2012.35,80)(2012.40,75)(2012.45,78)(2012.50,72)(2012.55,76)(2012.60,70)(2012.65,66)(2012.70,62)(2012.75,60)(2012.80,58)(2012.85,62)(2012.90,60)(2012.95,68)
(2013.00,82)(2013.05,86)(2013.10,80)(2013.15,88)(2013.20,52)(2013.25,75)(2013.30,88)(2013.35,95)(2013.40,100)(2013.45,92)(2013.50,105)(2013.55,98)(2013.60,110)(2013.65,115)(2013.70,112)(2013.75,118)(2013.80,122)(2013.85,116)(2013.90,125)(2013.95,120)
(2014.00,128)(2014.05,118)(2014.10,124)(2014.15,130)(2014.20,112)(2014.25,100)(2014.30,92)(2014.35,82)(2014.40,68)(2014.45,60)(2014.50,55)(2014.55,62)(2014.60,75)(2014.65,72)(2014.70,78)(2014.75,70)(2014.80,76)(2014.85,72)(2014.90,68)(2014.95,62)
(2015.00,50)(2015.05,40)(2015.10,30)(2015.15,25)(2015.20,18)(2015.25,22)(2015.30,15)(2015.35,12)(2015.40,8)(2015.45,5)(2015.50,2)(2015.55,-2)(2015.60,4)(2015.65,-5)(2015.70,-8)(2015.75,-12)(2015.80,-14)(2015.85,-10)(2015.90,-15)(2015.95,-12)
(2016.00,-8)(2016.05,-13)(2016.10,-10)(2016.15,-5)(2016.20,-12)(2016.25,-8)(2016.30,2)(2016.35,-6)(2016.40,-10)(2016.45,5)(2016.50,-4)(2016.55,-8)
(2016.60,0)(2016.65,0)(2016.70,0)(2016.75,0)(2016.80,0)(2016.85,0)(2016.90,0)(2016.95,0)
(2017.00,0)(2017.05,0)(2017.10,0)(2017.15,0)(2017.20,0)(2017.25,0)(2017.30,0)(2017.35,0)(2017.40,0)(2017.45,0)(2017.50,0)(2017.55,0)(2017.60,0)(2017.65,0)(2017.70,0)(2017.75,0)(2017.80,0)(2017.85,0)(2017.90,0)(2017.95,0)
(2018.00,0)(2018.05,0)(2018.10,0)(2018.15,0)(2018.20,0)(2018.25,0)(2018.30,0)(2018.35,0)(2018.40,0)(2018.45,0)(2018.50,0)(2018.55,0)(2018.60,0)(2018.65,0)(2018.70,0)(2018.75,0)(2018.80,0)(2018.85,0)(2018.90,0)(2018.95,0)
(2019.00,0)(2019.05,0)(2019.10,0)(2019.15,0)(2019.20,0)(2019.25,0)(2019.30,0)(2019.35,0)(2019.40,0)(2019.45,0)(2019.50,0)(2019.55,0)(2019.60,0)(2019.65,0)(2019.70,0)(2019.75,0)(2019.80,0)(2019.85,0)(2019.90,0)(2019.95,0)
(2020.00,0)(2020.05,0)(2020.10,0)(2020.15,0)(2020.20,0)(2020.25,0)(2020.30,0)(2020.35,0)(2020.40,0)(2020.45,0)(2020.50,0)(2020.55,0)(2020.60,0)(2020.65,0)(2020.70,0)(2020.75,0)(2020.80,0)(2020.85,0)(2020.90,0)(2020.95,0)
(2021.00,0)(2021.05,0)(2021.10,0)(2021.15,0)(2021.20,0)(2021.25,0)(2021.30,0)(2021.35,0)(2021.40,0)(2021.45,0)(2021.50,0)(2021.55,0)(2021.60,0)(2021.65,0)(2021.70,0)(2021.75,0)(2021.80,0)(2021.85,0)(2021.90,0)(2021.95,0)
(2022.00,0)(2022.05,0)(2022.10,0)(2022.15,0)(2022.20,0)(2022.25,0)(2022.30,0)(2022.35,0)(2022.40,0)(2022.45,0)(2022.50,0)(2022.55,0)(2022.60,0)(2022.65,0)(2022.70,0)(2022.75,0)(2022.80,0)(2022.85,0)(2022.90,0)(2022.95,0)(2023.00,0)
};
\addlegendentry{Rendement\_A10}
\addplot[sA10, forget plot] coordinates {
(1997.025,24)(1997.075,34)(1997.125,30)(1997.175,35)(1997.225,22)(1997.275,40)(1997.325,25)(1997.375,6)(1997.425,8)(1997.475,5)(1997.525,0)(1997.575,6)(1997.625,12)(1997.675,24)(1997.725,16)(1997.775,22)(1997.825,30)(1997.875,46)(1997.925,55)(1997.975,44)
(1998.025,45)(1998.075,24)(1998.125,18)(1998.175,22)(1998.225,34)(1998.275,28)(1998.325,34)(1998.375,48)(1998.425,58)(1998.475,56)(1998.525,64)(1998.575,72)(1998.625,70)(1998.675,72)(1998.725,85)(1998.775,78)(1998.825,52)(1998.875,58)(1998.925,44)(1998.975,48)
(1999.025,52)(1999.075,45)(1999.125,48)(1999.175,38)(1999.225,46)(1999.275,38)(1999.325,42)(1999.375,35)(1999.425,40)(1999.475,31)(1999.525,38)(1999.575,32)(1999.625,34)(1999.675,40)(1999.725,45)(1999.775,42)(1999.825,50)(1999.875,55)(1999.925,60)(1999.975,68)
(2000.025,62)(2000.075,58)(2000.125,52)(2000.175,42)(2000.225,35)(2000.275,38)(2000.325,30)(2000.375,18)(2000.425,6)(2000.475,12)(2000.525,4)(2000.575,10)(2000.625,6)(2000.675,2)(2000.725,8)(2000.775,0)(2000.825,3)(2000.875,10)(2000.925,22)(2000.975,32)
(2001.025,30)(2001.075,36)(2001.125,32)(2001.175,25)(2001.225,18)(2001.275,12)(2001.325,14)(2001.375,16)(2001.425,22)(2001.475,30)(2001.525,28)(2001.575,34)(2001.625,40)(2001.675,50)(2001.725,55)(2001.775,52)(2001.825,62)(2001.875,60)(2001.925,68)(2001.975,75)
(2002.025,72)(2002.075,64)(2002.125,68)(2002.175,62)(2002.225,66)(2002.275,60)(2002.325,64)(2002.375,68)(2002.425,62)(2002.475,66)(2002.525,68)(2002.575,74)(2002.625,80)(2002.675,85)(2002.725,82)(2002.775,86)(2002.825,84)(2002.875,88)(2002.925,96)(2002.975,96)
(2003.025,88)(2003.075,94)(2003.125,92)(2003.175,86)(2003.225,90)(2003.275,92)(2003.325,84)(2003.375,88)(2003.425,82)(2003.475,86)(2003.525,88)(2003.575,82)(2003.625,66)(2003.675,58)(2003.725,54)(2003.775,56)(2003.825,52)(2003.875,54)(2003.925,50)(2003.975,54)
(2004.025,54)(2004.075,52)(2004.125,56)(2004.175,50)(2004.225,56)(2004.275,66)(2004.325,62)(2004.375,54)(2004.425,50)(2004.475,52)(2004.525,48)(2004.575,47)(2004.625,50)(2004.675,54)(2004.725,52)(2004.775,56)(2004.825,50)(2004.875,54)(2004.925,50)(2004.975,52)
(2005.025,58)(2005.075,75)(2005.125,88)(2005.175,102)(2005.225,98)(2005.275,108)(2005.325,105)(2005.375,118)(2005.425,120)(2005.475,125)(2005.525,120)(2005.575,118)(2005.625,115)(2005.675,100)(2005.725,92)(2005.775,110)(2005.825,124)(2005.875,122)(2005.925,124)(2005.975,128)
(2006.025,126)(2006.075,125)(2006.125,122)(2006.175,121)(2006.225,120)(2006.275,124)(2006.325,120)(2006.375,119)(2006.425,126)(2006.475,122)(2006.525,121)(2006.575,118)(2006.625,118)(2006.675,120)(2006.725,116)(2006.775,123)(2006.825,122)(2006.875,130)(2006.925,140)(2006.975,136)
(2007.025,142)(2007.075,139)(2007.125,146)(2007.175,140)(2007.225,138)(2007.275,148)(2007.325,154)(2007.375,162)(2007.425,157)(2007.475,162)(2007.525,168)(2007.575,178)(2007.625,185)(2007.675,183)(2007.725,190)(2007.775,198)(2007.825,210)(2007.875,218)(2007.925,214)(2007.975,222)
(2008.025,222)(2008.075,212)(2008.125,214)(2008.175,206)(2008.225,212)(2008.275,208)(2008.325,230)(2008.375,240)(2008.425,215)(2008.475,212)(2008.525,200)(2008.575,185)(2008.625,175)(2008.675,160)(2008.725,152)(2008.775,172)(2008.825,165)(2008.875,170)(2008.925,176)(2008.975,165)
(2009.025,175)(2009.075,192)(2009.125,210)(2009.175,218)(2009.225,228)(2009.275,236)(2009.325,244)(2009.375,240)(2009.425,232)(2009.475,234)(2009.525,220)(2009.575,190)(2009.625,170)(2009.675,155)(2009.725,154)(2009.775,150)(2009.825,148)(2009.875,140)(2009.925,125)(2009.975,118)
(2010.025,118)(2010.075,115)(2010.125,114)(2010.175,110)(2010.225,102)(2010.275,106)(2010.325,104)(2010.375,100)(2010.425,98)(2010.475,95)(2010.525,92)(2010.575,90)(2010.625,88)(2010.675,89)(2010.725,92)(2010.775,98)(2010.825,105)(2010.875,104)(2010.925,106)(2010.975,106)
(2011.025,101)(2011.075,104)(2011.125,130)(2011.175,154)(2011.225,148)(2011.275,128)(2011.325,115)(2011.375,116)(2011.425,118)(2011.475,112)(2011.525,104)(2011.575,98)(2011.625,100)(2011.675,102)(2011.725,103)(2011.775,104)(2011.825,100)(2011.875,101)(2011.925,100)(2011.975,98)
(2012.025,96)(2012.075,95)(2012.125,96)(2012.175,92)(2012.225,93)(2012.275,92)(2012.325,84)(2012.375,78)(2012.425,76)(2012.475,75)(2012.525,74)(2012.575,73)(2012.625,68)(2012.675,64)(2012.725,61)(2012.775,59)(2012.825,60)(2012.875,61)(2012.925,64)(2012.975,75)
(2013.025,84)(2013.075,83)(2013.125,84)(2013.175,78)(2013.225,64)(2013.275,82)(2013.325,92)(2013.375,98)(2013.425,96)(2013.475,98)(2013.525,102)(2013.575,104)(2013.625,112)(2013.675,114)(2013.725,115)(2013.775,120)(2013.825,119)(2013.875,120)(2013.925,122)(2013.975,124)
(2014.025,122)(2014.075,121)(2014.125,127)(2014.175,120)(2014.225,106)(2014.275,96)(2014.325,87)(2014.375,75)(2014.425,64)(2014.475,58)(2014.525,58)(2014.575,68)(2014.625,74)(2014.675,75)(2014.725,74)(2014.775,73)(2014.825,74)(2014.875,70)(2014.925,65)(2014.975,56)
(2015.025,45)(2015.075,35)(2015.125,28)(2015.175,21)(2015.225,20)(2015.275,18)(2015.325,14)(2015.375,10)(2015.425,6)(2015.475,4)(2015.525,0)(2015.575,1)(2015.625,-1)(2015.675,-6)(2015.725,-10)(2015.775,-13)(2015.825,-12)(2015.875,-13)(2015.925,-14)(2015.975,-10)
(2016.025,-11)(2016.075,-12)(2016.125,-8)(2016.175,-9)(2016.225,-10)(2016.275,-3)(2016.325,-2)(2016.375,-8)(2016.425,-2)(2016.475,0)(2016.525,-6)(2016.575,-4)
};
\addlegendimage{black, line width=2.2pt}
\addlegendentry{0,0\%}
\end{axis}
\begin{scope}[x=0.5pt,y=-0.5pt]
 \fill[white] (443,58) rectangle (1765,160);
 \node[anchor=base, inner sep=0pt, text=txtgray] at (1086,112) {\resizebox{625pt}{\height}{\bfseries\fontsize{13.2}{16}\selectfont Rendement du placement Nisshin Seifun Group Inc en fonction de la date de début pour des durées}};
 \node[anchor=base, inner sep=0pt, text=txtgray] at (1100,152) {\resizebox{655pt}{\height}{\bfseries\fontsize{13.2}{16}\selectfont entre 4 (A04) et 10 ans (A10). Cotations entre janv. 1997 et juil. 2026. Revenus DISTRIBUES depuis mars. 1997.}};
\end{scope}
\end{tikzpicture}
\end{document}
